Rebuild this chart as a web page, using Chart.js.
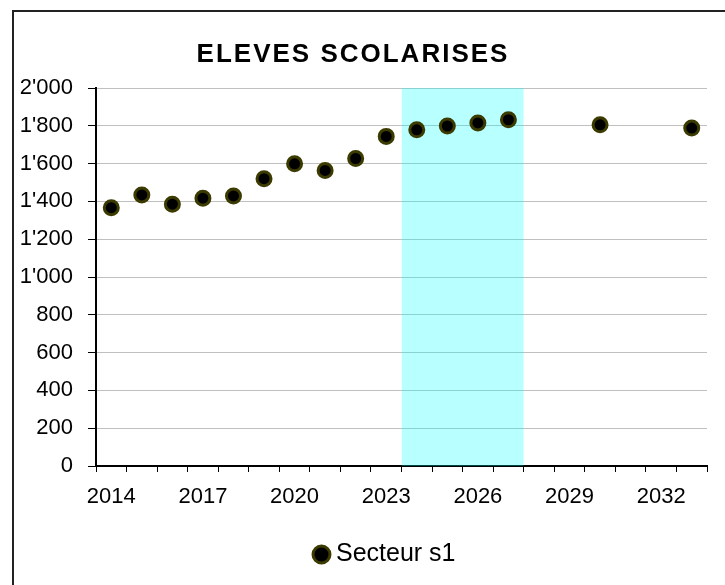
<!DOCTYPE html>
<html>
<head>
<meta charset="utf-8">
<script src="https://cdn.jsdelivr.net/npm/chart.js@4/dist/chart.umd.min.js"></script>
<style>
  html, body { margin: 0; padding: 0; background: #fff; overflow: hidden; }
  #frame { position: absolute; left: 12px; top: 10px; width: 900px; height: 800px; border: 2px solid #222; }
  #chart { position: absolute; left: 0; top: 0; }
</style>
</head>
<body>
<div id="frame"></div>
<canvas id="chart" width="725" height="585"></canvas>
<script>
// years on the category axis
const years = ['2014','2015','2016','2017','2018','2019','2020','2021','2022','2023',
               '2024','2025','2026','2027','2028','2029','2030','2031','2032','2033'];
// pupils (no value for 2028, 2029, 2031, 2032)
const pupils = [1367, 1434, 1385, 1417, 1429, 1520, 1599, 1564, 1627, 1744,
                1779, 1799, 1815, 1832, null, null, 1805, null, null, 1788];
// highlighted years (band covers whole cells 2024..2027, up to the axis max)
const bandFrom = 2024;
const bandTo = 2027;
const bandTop = 2000;
const titleText = 'ELEVES SCOLARISES';
const seriesName = 'Secteur s1';

const FONT = "'Liberation Sans', Arial, sans-serif";
const firstYear = Number(years[0]);
const lastYear = Number(years[years.length - 1]);

function fmt(v) {
    return String(v).replace(/\B(?=(\d{3})+(?!\d))/g, "'");
}

// title drawn as text at the spot Excel put it, legend nudged right like in Excel
const excelLook = {
    id: 'excelLook',
    afterLayout(chart) {
        if (chart.legend) chart.legend.left += 32;
    },
    afterDraw(chart) {
        const ctx = chart.ctx;
        ctx.save();
        ctx.font = 'bold 26px ' + FONT;
        ctx.fillStyle = '#000';
        ctx.textAlign = 'center';
        ctx.textBaseline = 'alphabetic';
        if ('letterSpacing' in ctx) ctx.letterSpacing = '2px';
        ctx.fillText(titleText, 353, 62);
        ctx.restore();
    }
};

new Chart(document.getElementById('chart'), {
    type: 'line',
    data: {
        labels: years,
        datasets: [{
            label: seriesName,
            data: pupils,
            showLine: false,
            pointRadius: 7,
            pointHoverRadius: 7,
            pointBorderWidth: 3,
            borderWidth: 3,
            pointBackgroundColor: '#000',
            backgroundColor: '#000',
            pointBorderColor: '#3b3b00',
            borderColor: '#3b3b00',
            order: 1
        }, {
            label: 'band',
            xAxisID: 'xb',
            data: [{ x: bandFrom - 0.5, y: bandTop }, { x: bandTo + 0.5, y: bandTop }],
            fill: 'origin',
            backgroundColor: 'rgba(0,255,255,0.28)',
            borderWidth: 0,
            pointRadius: 0,
            order: 2
        }]
    },
    options: {
        responsive: false,
        animation: false,
        devicePixelRatio: 1,
        layout: { padding: { left: 18, right: 0, top: 88, bottom: 8 } },
        plugins: {
            title: { display: false },
            tooltip: { enabled: false },
            legend: {
                position: 'bottom',
                labels: {
                    filter: item => item.datasetIndex === 0,
                    usePointStyle: true,
                    pointStyle: 'circle',
                    boxWidth: 4,
                    boxHeight: 12,
                    color: '#000',
                    font: { family: FONT, size: 25 }
                }
            }
        },
        scales: {
            x: {
                type: 'category',
                offset: true,
                grid: {
                    offset: true,
                    drawOnChartArea: false,
                    tickLength: 6,
                    tickColor: '#000',
                    tickWidth: 1
                },
                border: { color: '#000', width: 2 },
                ticks: {
                    autoSkip: false,
                    maxRotation: 0,
                    minRotation: 0,
                    padding: 12,
                    color: '#000',
                    font: { family: FONT, size: 22 },
                    callback: (v, i) => (i % 3 === 0 ? years[i] : '')
                },
                afterFit: s => { s.height = 66; }
            },
            xb: {
                type: 'linear',
                display: false,
                min: firstYear - 0.5,
                max: lastYear + 0.5
            },
            y: {
                min: 0,
                max: 2000,
                grid: {
                    color: '#c0c0c0',
                    lineWidth: 1,
                    tickLength: 8,
                    tickColor: '#000'
                },
                border: { color: '#000', width: 2 },
                ticks: {
                    stepSize: 200,
                    padding: 15,
                    color: '#000',
                    font: { family: FONT, size: 22 },
                    callback: v => fmt(v)
                },
                afterFit: s => { s.width = 78; }
            },
            yr: {
                position: 'right',
                min: 0,
                max: 2000,
                grid: { display: false },
                border: { display: false },
                ticks: { display: false },
                afterFit: s => { s.width = 18; }
            }
        }
    },
    plugins: [excelLook]
});
</script>
</body>
</html>
